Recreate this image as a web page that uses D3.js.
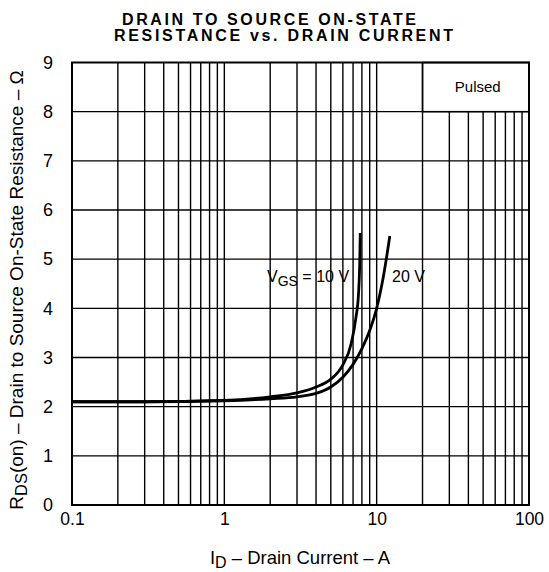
<!DOCTYPE html>
<html>
<head>
<meta charset="utf-8">
<script src="https://cdn.jsdelivr.net/npm/d3@7"></script>
<style>
   body { margin: 0; background: #fff; }
   svg { display: block; font-family: "Liberation Sans", Arial, sans-serif; }
</style>
</head>
<body>
<div id="chart"></div>
<script>
// CHART DATA
var currentTicks = [0.1, 1, 10, 100];
var resistanceTicks = [0, 1, 2, 3, 4, 5, 6, 7, 8, 9];

// VGS = 10 V CURVE
var id10 = [0.1, 0.3, 1, 2, 3, 4, 5, 6, 6.8, 7.3, 7.6, 7.75, 7.8];
var rds10 = [2.1, 2.1, 2.13, 2.2, 2.28, 2.4, 2.56, 2.85, 3.28, 3.8, 4.3, 5.0, 5.53];

// VGS = 20 V CURVE
var id20 = [0.1, 0.3, 1, 2, 3, 4, 5, 6, 7, 8, 9, 10, 11, 12.2];
var rds20 = [2.1, 2.1, 2.12, 2.16, 2.2, 2.27, 2.4, 2.6, 2.86, 3.18, 3.55, 4.0, 4.6, 5.47];

// LAYOUT SETTINGS
var settings = {
   width: 549,
   height: 572,
   left: 72,
   right: 529,
   top: 62.5,
   bottom: 505
};

// SCALES
var xScale = d3.scaleLog()
   .domain([0.1, 100])
   .range([settings.left, settings.right])

var yScale = d3.scaleLinear()
   .domain([0, 9])
   .range([settings.bottom, settings.top])

// CANVAS
var svg = d3.select('#chart').append('svg')
   .attr('width', settings.width)
   .attr('height', settings.height)

// VERTICAL GRID VALUES -- 1..9 PER DECADE
var gridX = [];
[0.1, 1, 10].forEach(decade => {
   for (var m = 2; m <= 9; m++) { gridX.push(+(decade * m).toFixed(2)); }
});
gridX.push(1, 10);

// VERTICAL GRID -- LINES INSIDE THE PULSED BOX STOP AT 8
svg.append('g').selectAll('line')
   .data(gridX)
   .enter().append('line')
      .attr('x1', d => xScale(d))
      .attr('x2', d => xScale(d))
      .attr('y1', yScale(0))
      .attr('y2', d => (d > 20 && d < 100) ? yScale(8) : yScale(9))
      .attr('stroke', '#000')
      .attr('stroke-width', 1.4)

// HORIZONTAL GRID
svg.append('g').selectAll('line')
   .data(resistanceTicks.slice(1, 9))
   .enter().append('line')
      .attr('x1', xScale(0.1))
      .attr('x2', xScale(100))
      .attr('y1', d => yScale(d))
      .attr('y2', d => yScale(d))
      .attr('stroke', '#000')
      .attr('stroke-width', 1.4)

// FRAME
svg.append('rect')
   .attr('x', xScale(0.1))
   .attr('y', yScale(9))
   .attr('width', xScale(100) - xScale(0.1))
   .attr('height', yScale(0) - yScale(9))
   .attr('fill', 'none')
   .attr('stroke', '#000')
   .attr('stroke-width', 2)

// PULSED BOX
svg.append('rect')
   .attr('x', xScale(20))
   .attr('y', yScale(9))
   .attr('width', xScale(100) - xScale(20))
   .attr('height', yScale(8) - yScale(9))
   .attr('fill', 'none')
   .attr('stroke', '#000')
   .attr('stroke-width', 1.5)

svg.append('text')
   .attr('x', (xScale(20) + xScale(100)) / 2 + 2)
   .attr('y', yScale(8.5) + 5)
   .attr('text-anchor', 'middle')
   .attr('font-size', 15)
   .text('Pulsed')

// CURVES
var line = d3.line()
   .x(d => xScale(d[0]))
   .y(d => yScale(d[1]))
   .curve(d3.curveMonotoneX)

svg.append('path')
   .attr('d', line(d3.zip(id10, rds10)))
   .attr('fill', 'none')
   .attr('stroke', '#000')
   .attr('stroke-width', 2.8)

svg.append('path')
   .attr('d', line(d3.zip(id20, rds20)))
   .attr('fill', 'none')
   .attr('stroke', '#000')
   .attr('stroke-width', 2.8)

// CURVE LABELS
var lab10 = svg.append('text')
   .attr('x', 267)
   .attr('y', 282)
   .attr('font-size', 16)
lab10.append('tspan').text('V')
lab10.append('tspan').attr('dy', 4).attr('font-size', 14).text('GS')
lab10.append('tspan').attr('dy', -4).text(' = 10 V')

svg.append('text')
   .attr('x', 392)
   .attr('y', 282)
   .attr('font-size', 16)
   .text('20 V')

// X AXIS LABELS
var xAxis = d3.axisBottom(xScale)
   .tickValues(currentTicks)
   .tickSize(0)
   .tickPadding(8)
   .tickFormat(d => d < 1 ? '0.1' : String(d))

svg.append('g')
   .attr('transform', 'translate(0,' + settings.bottom + ')')
   .call(xAxis)
   .call(g => g.select('.domain').remove())
   .selectAll('text')
      .attr('font-size', 17.5)
      .attr('font-family', '"Liberation Sans", Arial, sans-serif')
      .attr('fill', '#000')

// Y AXIS LABELS
var yAxis = d3.axisLeft(yScale)
   .tickValues(resistanceTicks)
   .tickSize(0)
   .tickPadding(19)

svg.append('g')
   .attr('transform', 'translate(' + settings.left + ',0)')
   .call(yAxis)
   .call(g => g.select('.domain').remove())
   .selectAll('text')
      .attr('font-size', 18)
      .attr('font-family', '"Liberation Sans", Arial, sans-serif')
      .attr('fill', '#000')

// X AXIS TITLE
var xTitle = svg.append('text')
   .attr('x', 300)
   .attr('y', 564)
   .attr('text-anchor', 'middle')
   .attr('font-size', 18.5)
xTitle.append('tspan').text('I')
xTitle.append('tspan').attr('dy', 4).attr('font-size', 16).text('D')
xTitle.append('tspan').attr('dy', -4).text(' \u2013 Drain Current \u2013 A')

// Y AXIS TITLE
var yTitle = svg.append('text')
   .attr('transform', 'translate(23,290) rotate(-90)')
   .attr('text-anchor', 'middle')
   .attr('font-size', 19)
yTitle.append('tspan').text('R')
yTitle.append('tspan').attr('dy', 4).attr('font-size', 16.5).text('DS')
yTitle.append('tspan').attr('dy', -4).text('(on) \u2013 Drain to Source On-State Resistance \u2013 \u03A9')

// CHART TITLE -- WIDE LETTER SPACING
var title = svg.append('g')
   .attr('font-size', 16)
   .attr('font-weight', 'bold')
   .attr('text-anchor', 'middle')

title.append('text')
   .attr('x', 269).attr('y', 25)
   .attr('textLength', 294)
   .attr('lengthAdjust', 'spacing')
   .text('DRAIN TO SOURCE ON-STATE')

title.append('text')
   .attr('x', 283.5).attr('y', 41)
   .attr('textLength', 339)
   .attr('lengthAdjust', 'spacing')
   .text('RESISTANCE vs. DRAIN CURRENT')
</script>
</body>
</html>
